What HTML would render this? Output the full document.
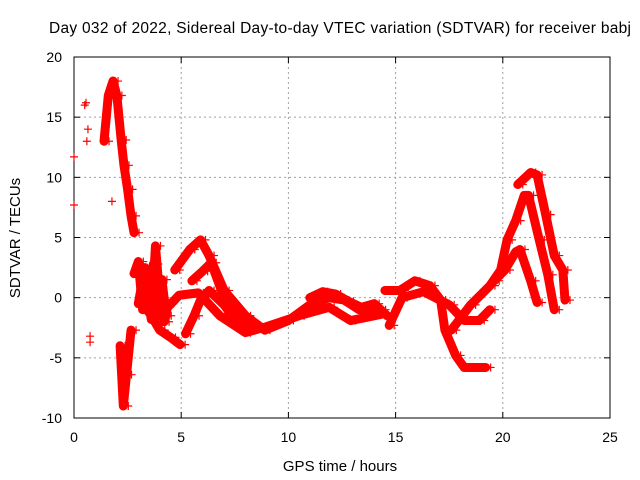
<!DOCTYPE html>
<html><head><meta charset="utf-8"><style>
body{margin:0;background:#fff}
svg{display:block;font-family:"Liberation Sans",sans-serif}
</style></head><body>
<svg id="chart" width="640" height="480" viewBox="0 0 640 480">
<text x="340" y="33" font-size="15.5" text-anchor="middle" fill="#000" textLength="582">Day 032 of 2022, Sidereal Day-to-day VTEC variation (SDTVAR) for receiver babj</text>
<text x="340" y="471" font-size="15" text-anchor="middle">GPS time / hours</text>
<text x="0" y="0" font-size="15" text-anchor="middle" transform="translate(20,238) rotate(-90)">SDTVAR / TECUs</text>
<g id="grid"></g>
<g id="axes"></g>
<g id="series"></g>
</svg>
<script>
const xTicks=[0,5,10,15,20,25];
const yTicks=[-10,-5,0,5,10,15,20];
const arcA_t=[1.4,1.6,1.82,2.0,2.2,2.33,2.5,2.66,2.8];
const arcA_v=[13,16.8,18,16.8,13.1,11,9,6.8,5.4];
const spike_t=[2.15,2.3,2.45,2.66];
const spike_v=[-4,-9,-6.4,-2.7];
const isoT=[0,0,0.56,0.65,0.75,0.75,1.77,0.5,0.6,1.45,1.5];
const isoV=[11.7,7.7,16.2,14,-3.7,-3.2,8,16,13,13.5,14.5];
const clus_t=[2.8,3.0,3.2,3.4,3.6,3.8,4.0,4.2,4.4];
const clus_v=[2,3,-1,1.5,-1.8,4.3,0,-2,-0.5];
const clus2_t=[3.0,3.3,3.5,3.7,3.9,4.1,4.3];
const clus2_v=[-0.5,2.5,0.5,2.8,-1,1.5,-1.5];
const arcB_t=[3.1,3.6,4.0,4.5,4.95];
const arcB_v=[-0.2,-1.5,-2.7,-3.3,-3.9];
const arcC_t=[5.2,5.6,5.9,6.3,7.0,7.7];
const arcC_v=[-3,-1.5,-0.2,0.6,-0.6,-2.3];
const arcD_t=[4.7,5.4,5.9,6.3,7.0,8.0,8.9,10,11,11.9,12.6,13.3,14.3];
const arcD_v=[2.3,4,4.8,3.5,0.6,-1.5,-2.7,-1.9,-0.6,0,-0.2,-1,-1];
const arcE_t=[5.5,6.0,6.4,7.0,7.7,8.2];
const arcE_v=[1.4,2.2,2.9,0,-1.7,-2.3];
const arcF_t=[4.0,4.9,5.8,6.8,8.0,9.0,10.5,11.9,12.9,14.3];
const arcF_v=[-1.5,0.2,0.4,-1.5,-2.9,-2.4,-1.5,-0.8,-1.9,-1.4];
const arcM_t=[11,11.6,12.2,12.8,13.4,14,14.6];
const arcM_v=[0,0.5,0.3,-0.3,-0.8,-0.5,-1.5];
const arcG_t=[14.5,15.2,15.9,16.6,17.1,17.3,17.8,18.2,19.2];
const arcG_v=[0.6,0.6,1.4,1,-0.2,-2.7,-4.8,-5.8,-5.8];
const arcH_t=[14.7,15.3,16.3,17.5,18.2,18.9,19.4];
const arcH_v=[-2.3,0,0.5,-0.6,-1.9,-1.9,-1];
const arcI_t=[17.6,18.5,19.4,19.9,20.2,20.6,21.0,21.2,21.7,22.1,22.4];
const arcI_v=[-2.7,-0.6,1,2.3,4.8,6.4,8.5,8.5,4.8,1.9,-1];
const arcJ_t=[19.6,20.1,20.6,20.8,21.3,21.6];
const arcJ_v=[1.4,2.3,3.8,4,1.4,-0.4];
const arcK_t=[20.7,21.3,21.6,22.0,22.4,22.8,22.9];
const arcK_v=[9.4,10.4,10.2,6.9,3.5,2.3,-0.2];
const arcs=[[arcA_t,arcA_v],[spike_t,spike_v],[clus_t,clus_v],[clus2_t,clus2_v],[arcB_t,arcB_v],[arcC_t,arcC_v],[arcD_t,arcD_v],[arcE_t,arcE_v],[arcF_t,arcF_v],[arcM_t,arcM_v],[arcG_t,arcG_v],[arcH_t,arcH_v],[arcI_t,arcI_v],[arcJ_t,arcJ_v],[arcK_t,arcK_v]];
const L=74,R=610,T=57,B=418;
const xs=t=>L+(t-0)/25*(R-L);
const ys=v=>B-(v+10)/30*(B-T);
const NS="http://www.w3.org/2000/svg";
function mk(tag,attrs,parent){const e=document.createElementNS(NS,tag);for(const k in attrs)e.setAttribute(k,attrs[k]);parent.appendChild(e);return e;}
const grid=document.getElementById('grid'),axes=document.getElementById('axes'),ser=document.getElementById('series');
xTicks.forEach(t=>{const x=xs(t);
 if(t>0&&t<25){const g=mk('line',{x1:x,x2:x,y1:T,y2:B,stroke:'#a0a0a0','stroke-dasharray':'2,3'},grid);
 }
 mk('line',{x1:x,x2:x,y1:B,y2:B-6,stroke:'#000'},axes);mk('line',{x1:x,x2:x,y1:T,y2:T+6,stroke:'#000'},axes);
 const tx=mk('text',{x:x,y:B+24,'font-size':14,'text-anchor':'middle'},axes);tx.textContent=t;
 });
yTicks.forEach(v=>{const y=ys(v);
 if(v>-10&&v<20){const g=mk('line',{x1:L,x2:R,y1:y,y2:y,stroke:'#a0a0a0','stroke-dasharray':'2,3'},grid);
 }
 mk('line',{x1:L,x2:L+6,y1:y,y2:y,stroke:'#000'},axes);mk('line',{x1:R,x2:R-6,y1:y,y2:y,stroke:'#000'},axes);
 const tx=mk('text',{x:L-12,y:y+5,'font-size':14,'text-anchor':'end'},axes);tx.textContent=v;
 });
mk('rect',{x:L,y:T,width:R-L,height:B-T,fill:'none',stroke:'#000'},axes);
function plus(x,y){const p=mk('path',{d:`M${x-4},${y}h8M${x},${y-4}v8`,stroke:'#f00','stroke-width':1.2},ser);
 }
arcs.forEach(([tt,vv])=>{const pts=tt.map((t,i)=>xs(t)+','+ys(vv[i])).join(' ');
 const pl=mk('polyline',{points:pts,fill:'none',stroke:'#f00','stroke-width':9,'stroke-linejoin':'round','stroke-linecap':'round'},ser);
 
 tt.forEach((t,i)=>plus(xs(t)+5,ys(vv[i])));});
isoT.forEach((t,i)=>plus(xs(t),ys(isoV[i])));
</script>
</body></html>
